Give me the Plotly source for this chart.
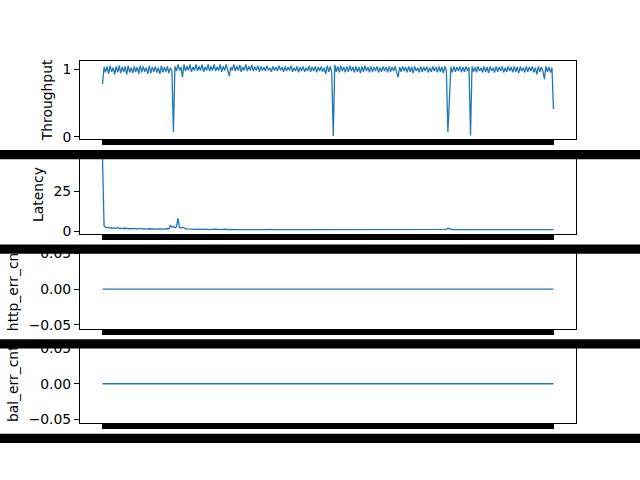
import plotly.graph_objects as go

# ---- data ----
throughput = [
    0.78, 1.03, 0.95, 1.04, 0.93, 1.05, 0.96, 1.02, 0.92, 1.04, 0.95, 1.05, 0.94, 1.03, 0.96, 1.04, 0.92, 1.05, 0.95, 1.02,
    0.94, 1.04, 0.96, 1.03, 0.93, 1.05, 0.95, 1.04, 0.96, 1.02, 0.93, 1.05, 0.94, 1.03, 0.96, 1.04, 0.95, 1.02, 0.93, 1.05,
    0.95, 1.03, 0.96, 1.04, 0.94, 1.02, 0.97, 0.07, 1.04, 0.97, 1.07, 0.98, 1.03, 0.88, 1.07, 0.97, 1.04, 0.98, 1.07, 0.96,
    1.03, 0.98, 1.07, 0.97, 1.04, 0.98, 1.07, 0.96, 1.03, 0.98, 1.07, 0.97, 1.04, 0.98, 1.07, 0.97, 1.03, 0.98, 1.07, 0.96,
    1.04, 0.98, 1.07, 0.97, 0.90, 1.03, 0.98, 1.07, 0.97, 1.04, 0.98, 1.06, 0.96, 1.03, 0.98, 1.07, 0.97, 1.04, 0.98, 1.06,
    0.97, 1.03, 0.98, 1.05, 0.96, 1.04, 0.98, 1.03, 0.97, 1.05, 0.98, 1.02, 0.96, 1.04, 0.98, 1.03, 0.97, 1.05, 0.98, 1.03,
    0.96, 1.04, 0.97, 1.03, 0.98, 1.05, 0.96, 1.02, 0.97, 1.04, 0.95, 1.03, 0.97, 1.04, 0.96, 1.02, 0.97, 1.05, 0.96, 1.03,
    0.97, 1.04, 0.95, 1.03, 0.97, 1.04, 0.96, 1.02, 0.93, 1.05, 0.96, 1.04, 0.95, 0.01, 1.06, 0.96, 1.04, 0.95, 1.05, 0.97,
    1.03, 0.95, 1.04, 0.96, 1.05, 0.97, 1.03, 0.95, 1.04, 0.96, 1.03, 0.94, 1.04, 0.96, 1.05, 0.97, 1.03, 0.95, 1.04, 0.96,
    1.03, 0.97, 1.04, 0.95, 1.02, 0.96, 1.04, 0.97, 1.03, 0.95, 1.04, 0.96, 1.03, 0.97, 1.04, 0.95, 0.88, 1.03, 0.96, 1.04,
    0.97, 1.03, 0.95, 1.04, 0.96, 1.03, 0.94, 1.04, 0.97, 1.02, 0.95, 1.04, 0.96, 1.03, 0.97, 1.04, 0.95, 1.02, 0.96, 1.04,
    0.97, 1.03, 0.95, 1.04, 0.96, 1.03, 0.94, 1.04, 0.97, 0.07, 0.70, 1.03, 0.95, 1.04, 0.96, 1.03, 0.97, 1.04, 0.95, 1.03,
    0.96, 1.04, 0.97, 1.03, 0.02, 1.04, 0.96, 1.03, 0.95, 1.04, 0.97, 1.02, 0.95, 1.04, 0.96, 1.03, 0.94, 1.04, 0.97, 1.02,
    0.95, 1.04, 0.96, 1.03, 0.97, 1.04, 0.95, 1.02, 0.96, 1.04, 0.97, 1.03, 0.95, 1.04, 0.96, 1.03, 0.94, 1.04, 0.97, 1.02,
    0.95, 1.04, 0.96, 1.03, 0.97, 1.04, 0.95, 1.02, 0.92, 1.04, 0.96, 1.03, 0.97, 0.85, 1.04, 0.96, 1.03, 0.95, 1.02, 0.41,
]
latency = [
    45.5, 3.4, 2.6, 2.2, 2.4, 2.0, 2.2, 1.8, 2.1, 1.9, 2.3, 1.8, 2.0, 1.7, 1.9, 1.8, 2.1, 1.7, 1.8, 1.6,
    1.8, 1.6, 1.7, 1.5, 1.8, 1.6, 1.5, 1.7, 1.5, 1.6, 1.4, 1.6, 1.5, 1.4, 1.6, 1.5, 1.4, 1.5, 1.4, 1.6,
    1.5, 1.4, 1.6, 1.5, 1.6, 3.6, 2.6, 3.0, 2.2, 2.8, 8.0, 2.4, 2.0, 2.6, 1.8, 1.6, 1.5, 1.4, 1.5, 1.3,
    1.4, 1.3, 1.2, 1.4, 1.3, 1.2, 1.3, 1.2, 1.4, 1.2, 1.3, 1.1, 1.2, 1.3, 1.1, 1.2, 1.3, 1.1, 1.2, 1.1,
    1.2, 1.1, 1.3, 1.1, 1.2, 1.1, 1.0, 1.2, 1.1, 1.0, 1.2, 1.1, 1.0, 1.1, 1.2, 1.0, 1.1, 1.0, 1.2, 1.0,
    1.1, 1.0, 1.1, 1.2, 1.0, 1.1, 1.0, 1.0, 1.1, 1.0, 1.2, 1.0, 1.1, 1.0, 1.0, 1.1, 1.0, 1.1, 1.0, 1.0,
    1.1, 1.0, 1.0, 1.1, 1.0, 1.2, 1.0, 1.0, 1.1, 1.0, 1.0, 1.1, 1.0, 1.0, 1.1, 1.0, 1.0, 1.1, 1.0, 1.0,
    1.1, 1.0, 1.0, 1.1, 1.0, 1.0, 1.1, 1.0, 1.0, 1.1, 1.0, 1.0, 1.1, 1.2, 1.0, 1.0, 1.1, 1.0, 1.0, 1.1,
    1.0, 1.0, 1.1, 1.0, 1.0, 1.1, 1.0, 1.0, 1.1, 1.0, 1.0, 1.1, 1.0, 1.0, 1.1, 1.0, 1.0, 1.1, 1.0, 1.0,
    1.1, 1.0, 1.0, 1.1, 1.4, 1.0, 1.1, 1.0, 1.0, 1.1, 1.0, 1.0, 1.1, 1.0, 1.0, 1.1, 1.0, 1.0, 1.1, 1.0,
    1.0, 1.1, 1.0, 1.0, 1.1, 1.0, 1.0, 1.1, 1.0, 1.0, 1.1, 1.0, 1.0, 1.1, 1.0, 1.0, 1.1, 1.0, 1.0, 1.1,
    1.0, 1.0, 1.1, 1.0, 1.0, 1.1, 1.0, 1.0, 1.2, 1.9, 1.5, 1.1, 1.0, 1.0, 1.1, 1.0, 1.0, 1.1, 1.0, 1.0,
    1.1, 1.0, 1.0, 1.1, 1.0, 1.0, 1.1, 1.0, 1.0, 1.1, 1.0, 1.0, 1.1, 1.0, 1.0, 1.1, 1.0, 1.3, 1.0, 1.0,
    1.1, 1.0, 1.0, 1.1, 1.0, 1.0, 1.1, 1.0, 1.0, 1.1, 1.0, 1.0, 1.1, 1.0, 1.0, 1.1, 1.0, 1.0, 1.1, 1.0,
    1.0, 1.1, 1.0, 1.0, 1.1, 1.0, 1.0, 1.1, 1.0, 1.0, 1.1, 1.0, 1.0, 1.1, 1.0, 1.0, 1.1, 1.0, 1.0, 1.1,
]
http_err_cnt = [0] * len(throughput)
bal_err_cnt = [0] * len(throughput)

labels = ["Throughput", "Latency", "http_err_cnt", "bal_err_cnt"]
series = [throughput, latency, http_err_cnt, bal_err_cnt]
yranges = [[-0.038, 1.126], [-1.65, 47.4], [-0.055, 0.055], [-0.055, 0.055]]
ytickvals = [[0, 1], [0, 25], [-0.05, 0, 0.05], [-0.05, 0, 0.05]]
ytickfmt = ["d", "d", ".2f", ".2f"]

W, H = 640, 480
FONT = "DejaVu Sans"
FS = 13.9
LINE = "#1f77b4"

# matplotlib default subplot geometry (4 rows)
top, bottom, hspace = 0.88, 0.11, 0.2
ah = (top - bottom) / (4 + 3 * hspace)
gap = ah * hspace

n = len(throughput)
idx = list(range(n))
xr = [-0.05 * (n - 1), (n - 1) * 1.05]

fig = go.Figure()
shapes = []
for i, (lab, ys) in enumerate(zip(labels, series)):
    d1 = top - i * (ah + gap)
    d0 = d1 - ah
    xa = "xaxis" if i == 0 else f"xaxis{i+1}"
    ya = "yaxis" if i == 0 else f"yaxis{i+1}"
    xref = "x" if i == 0 else f"x{i+1}"
    yref = "y" if i == 0 else f"y{i+1}"
    fig.add_trace(go.Scatter(x=idx, y=ys, mode="lines",
                             line=dict(color=LINE, width=1.3),
                             xaxis=xref, yaxis=yref, showlegend=False,
                             hoverinfo="skip"))
    fig.layout[xa] = dict(domain=[0.125, 0.9], anchor=yref, range=xr,
                          showgrid=False, zeroline=False, showline=True,
                          linecolor="black", linewidth=1, mirror=True,
                          ticks="outside", tickmode="array", tickvals=idx,
                          ticklen=5, tickwidth=2, tickcolor="black",
                          showticklabels=False)
    fig.layout[ya] = dict(domain=[d0, d1], anchor=xref, range=yranges[i],
                          showgrid=False, zeroline=False, showline=True,
                          linecolor="black", linewidth=1, mirror=True,
                          ticks="outside", ticklen=5, tickwidth=1,
                          tickcolor="black", tickmode="array",
                          tickvals=ytickvals[i], tickformat=ytickfmt[i],
                          tickfont=dict(family=FONT, size=FS, color="black"),
                          title=dict(text=lab, standoff=6,
                                     font=dict(family=FONT, size=FS, color="black")))
    # overlapping dense x tick labels appear as a solid black band
    shapes.append(dict(type="rect", xref="paper", yref="paper",
                       x0=0, x1=1, y0=d0 - 20.2 / H, y1=d0 - 10.8 / H,
                       fillcolor="black", line=dict(width=0), layer="above"))

fig.update_layout(width=W, height=H, margin=dict(l=0, r=0, t=0, b=0),
                  paper_bgcolor="white", plot_bgcolor="white",
                  font=dict(family=FONT, size=FS, color="black"),
                  shapes=shapes)

fig.write_html("out.html")
